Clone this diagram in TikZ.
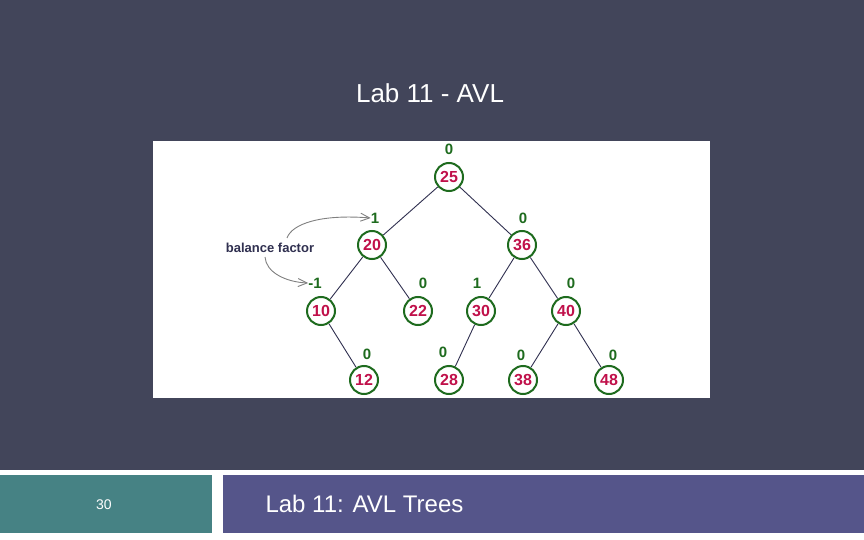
\documentclass[tikz,border=0pt]{standalone}
\usepackage{fontspec}
\setmainfont{Liberation Sans}
\usetikzlibrary{arrows.meta}
\definecolor{bg}{HTML}{42455A}
\definecolor{teal}{HTML}{468284}
\definecolor{purp}{HTML}{55558A}
\definecolor{ngreen}{HTML}{1E6B1E}
\definecolor{nred}{HTML}{C0104A}
\definecolor{edge}{HTML}{303050}
\begin{document}
\begin{tikzpicture}[x=1pt,y=-1pt,
  tn/.style={circle,draw=ngreen,line width=2pt,fill=white,minimum size=28pt,inner sep=0pt,text=nred,font=\bfseries\fontsize{16}{16}\selectfont},
  bf/.style={text=ngreen,font=\bfseries\fontsize{15}{15}\selectfont,inner sep=0pt},
  ed/.style={draw=edge,line width=0.9pt}]
\useasboundingbox (0,0) rectangle (864,540);
\fill[bg] (0,0) rectangle (864,540);
\fill[white] (0,470) rectangle (864,540);
\fill[teal] (0,475) rectangle (212,533);
\fill[purp] (223,475) rectangle (864,533);
\node[text=white,font=\fontsize{14}{14}\selectfont] (pg) at (104,505) {30};
\node[text=white,font=\fontsize{24}{24}\selectfont,anchor=west] (ft) at (262,504) {Lab 11: AVL Trees};
\node[text=white,font=\fontsize{26}{26}\selectfont] (tt) at (430,93) {Lab 11 - AVL};
\fill[white] (153,141) rectangle (710,398);
\node[tn] (n25) at (449,177) {25};
\node[tn] (n20) at (372,245) {20};
\node[tn] (n36) at (522,245) {36};
\node[tn] (n10) at (321,311) {10};
\node[tn] (n22) at (418,311) {22};
\node[tn] (n30) at (481,311) {30};
\node[tn] (n40) at (566,311) {40};
\node[tn] (n12) at (364,380) {12};
\node[tn] (n28) at (449,380) {28};
\node[tn] (n38) at (523,380) {38};
\node[tn] (n48) at (609,380) {48};
\draw[ed] (n25)--(n20); \draw[ed] (n25)--(n36);
\draw[ed] (n20)--(n10); \draw[ed] (n20)--(n22);
\draw[ed] (n36)--(n30); \draw[ed] (n36)--(n40);
\draw[ed] (n10)--(n12); \draw[ed] (n30)--(n28);
\draw[ed] (n40)--(n38); \draw[ed] (n40)--(n48);
\node[bf] (b25) at (449,149) {0};
\node[bf] (b20) at (375,218) {1};
\node[bf] (b36) at (523,218) {0};
\node[bf] (b10) at (315,283) {-1};
\node[bf] (b22) at (423,283) {0};
\node[bf] (b30) at (477,283) {1};
\node[bf] (b40) at (571,283) {0};
\node[bf] (b12) at (367,354) {0};
\node[bf] (b28) at (443,352) {0};
\node[bf] (b38) at (521,355) {0};
\node[bf] (b48) at (613,355) {0};
\node[text=edge,font=\bfseries\fontsize{13}{13}\selectfont] (lbl) at (270,248) {balance factor};
\draw[gray,line width=0.9pt,-{Straight Barb[length=9pt,width=8pt]}] (287,238) .. controls (292,224) and (320,214) .. (b20.west);
\draw[gray,line width=0.9pt,-{Straight Barb[length=9pt,width=8pt]}] (265,257) .. controls (266,272) and (285,282) .. (b10.west);
\end{tikzpicture}
\end{document}
